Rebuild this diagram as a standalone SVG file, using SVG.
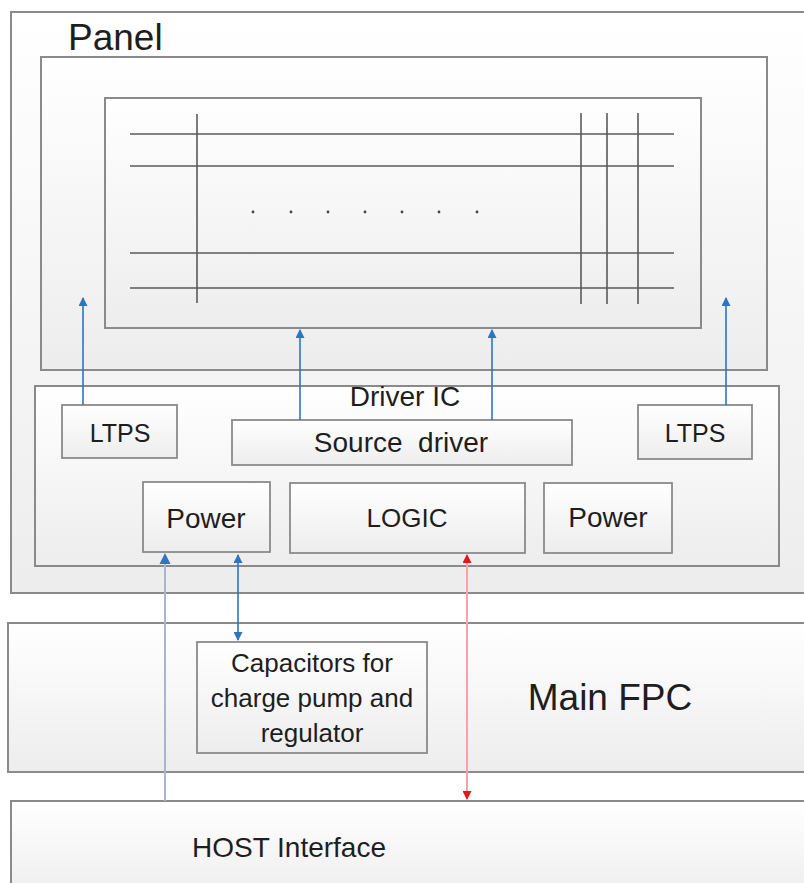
<svg xmlns="http://www.w3.org/2000/svg" width="804" height="883" viewBox="0 0 804 883">
<defs>
<linearGradient id="g" x1="0" y1="0" x2="0" y2="1">
<stop offset="0" stop-color="#ffffff"/>
<stop offset="1" stop-color="#ededed"/>
</linearGradient>
<marker id="ab" viewBox="0 0 10 10" refX="9" refY="5" markerWidth="11" markerHeight="9" markerUnits="userSpaceOnUse" orient="auto-start-reverse">
<path d="M0,0 L10,5 L0,10 z" fill="#2f74c0"/>
</marker>
<marker id="ar" viewBox="0 0 10 10" refX="9" refY="5" markerWidth="11" markerHeight="9" markerUnits="userSpaceOnUse" orient="auto-start-reverse">
<path d="M0,0 L10,5 L0,10 z" fill="#e8141c"/>
</marker>
<style>
.box{fill:url(#g);stroke:#8a8a8a;stroke-width:2}
.sbox{fill:url(#g);stroke:#8a8a8a;stroke-width:1.8}
.grid{stroke:#5a5a5a;stroke-width:1.6}
.t{font-family:"Liberation Sans",Arial,sans-serif;fill:#1e1e1e;text-anchor:middle}
.blue{stroke:#2f74c0;stroke-width:1.6;fill:none}
</style>
</defs>
<rect width="804" height="883" fill="#ffffff"/>

<g id="panel">
<rect class="box" x="11" y="12" width="810" height="581"/>
<text class="t" x="68" y="50" font-size="37" style="text-anchor:start">Panel</text>
<rect class="box" x="41" y="57" width="726" height="313"/>
<rect class="box" x="105" y="98" width="596" height="230"/>
<g id="grid">
<line class="grid" x1="130" y1="134" x2="674" y2="134"/>
<line class="grid" x1="130" y1="166" x2="674" y2="166"/>
<line class="grid" x1="130" y1="253" x2="674" y2="253"/>
<line class="grid" x1="130" y1="288" x2="674" y2="288"/>
<line class="grid" x1="197" y1="114" x2="197" y2="303"/>
<line class="grid" x1="581" y1="113" x2="581" y2="304"/>
<line class="grid" x1="607" y1="113" x2="607" y2="304"/>
<line class="grid" x1="638" y1="113" x2="638" y2="304"/>
<g fill="#444">
<circle cx="253" cy="212" r="1.4"/><circle cx="291" cy="212" r="1.4"/><circle cx="328" cy="212" r="1.4"/><circle cx="365" cy="212" r="1.4"/><circle cx="402" cy="212" r="1.4"/><circle cx="439" cy="212" r="1.4"/><circle cx="477" cy="212" r="1.4"/>
</g>
</g>
</g>

<g id="driver-ic">
<rect class="box" x="35" y="386" width="744" height="180"/>
<text class="t" x="405" y="406" font-size="28">Driver IC</text>
</g>
<g id="ltps-left">
<rect class="sbox" x="62" y="405" width="115" height="53"/>
<text class="t" x="120" y="442" font-size="25">LTPS</text>
</g>
<g id="source-driver">
<rect class="sbox" x="232" y="420" width="340" height="45"/>
<text class="t" x="401" y="452" font-size="28" style="white-space:pre">Source  driver</text>
</g>
<g id="ltps-right">
<rect class="sbox" x="638" y="405" width="114" height="54"/>
<text class="t" x="695" y="442" font-size="25">LTPS</text>
</g>
<g id="power-left">
<rect class="sbox" x="143" y="482" width="127" height="70"/>
<text class="t" x="206" y="528" font-size="28">Power</text>
</g>
<g id="logic">
<rect class="sbox" x="290" y="483" width="235" height="70"/>
<text class="t" x="407" y="527" font-size="26">LOGIC</text>
</g>
<g id="power-right">
<rect class="sbox" x="544" y="483" width="128" height="70"/>
<text class="t" x="608" y="527" font-size="28">Power</text>
</g>

<g id="main-fpc">
<rect class="box" x="8" y="623" width="810" height="149"/>
<text class="t" x="610" y="710" font-size="37">Main FPC</text>
</g>
<g id="capacitors">
<rect class="sbox" x="197" y="642" width="230" height="111"/>
<text class="t" x="312" y="672" font-size="26">Capacitors for</text>
<text class="t" x="312" y="707" font-size="26">charge pump and</text>
<text class="t" x="312" y="742" font-size="26">regulator</text>
</g>
<g id="host-interface">
<rect class="box" x="11" y="801" width="810" height="100"/>
<text class="t" x="192" y="857" font-size="28" style="text-anchor:start">HOST Interface</text>
</g>

<g id="connectors">
<line class="blue" x1="83" y1="405" x2="83" y2="298" marker-end="url(#ab)"/>
<line class="blue" x1="726" y1="405" x2="726" y2="298" marker-end="url(#ab)"/>
<line class="blue" x1="300" y1="420" x2="300" y2="330" marker-end="url(#ab)"/>
<line class="blue" x1="492" y1="420" x2="492" y2="330" marker-end="url(#ab)"/>
<line x1="165" y1="801" x2="165" y2="560" stroke="#aab2da" stroke-width="2"/>
<path d="M159.5,564 L165,553 L170.5,564 z" fill="#2f74c0"/>
<line class="blue" x1="238" y1="555" x2="238" y2="640" marker-start="url(#ab)" marker-end="url(#ab)"/>
<line x1="467" y1="555" x2="467" y2="799" stroke="#f5a3a6" stroke-width="2" marker-start="url(#ar)" marker-end="url(#ar)"/>
</g>
</svg>
